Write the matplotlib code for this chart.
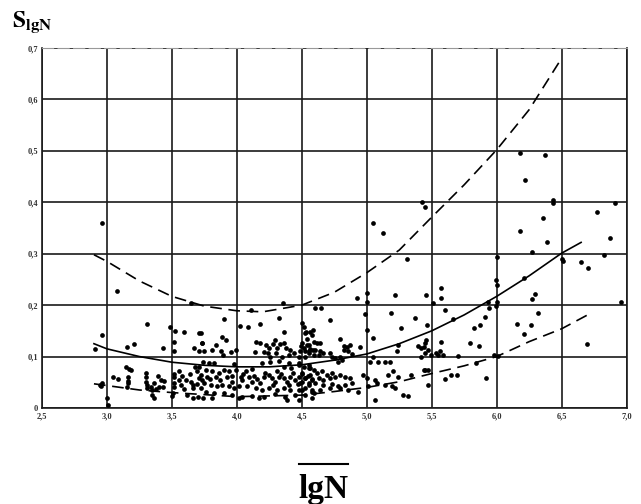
import matplotlib
matplotlib.use("Agg")
import matplotlib.pyplot as plt
from matplotlib.lines import Line2D

# scatter points (lgN, S)
pts_left = [
    (2.965, 0.359), (3.077, 0.228), (2.965, 0.142), (2.906, 0.115), (2.96, 0.048),
    (2.955, 0.042), (2.944, 0.045), (3.003, 0.019), (3.008, 0.006), (3.306, 0.163),
    (3.156, 0.119), (3.212, 0.125), (3.43, 0.117), (3.488, 0.157), (3.524, 0.150),
    (3.513, 0.129), (3.513, 0.110), (3.595, 0.147), (3.71, 0.146), (3.67, 0.116),
    (3.71, 0.110), (3.735, 0.126), (3.646, 0.205),
    (3.149, 0.080), (3.169, 0.076), (3.187, 0.073), (3.046, 0.061), (3.084, 0.056),
    (3.16, 0.060), (3.16, 0.053), (3.16, 0.048), (3.155, 0.041),
    (3.30, 0.069), (3.30, 0.060), (3.30, 0.051), (3.31, 0.045), (3.31, 0.038),
    (3.34, 0.041), (3.35, 0.035), (3.35, 0.025), (3.36, 0.019), (3.38, 0.036),
    (3.365, 0.048), (3.396, 0.062), (3.417, 0.054), (3.44, 0.053), (3.40, 0.040),
    (3.43, 0.041), (3.515, 0.067), (3.515, 0.060), (3.515, 0.048), (3.515, 0.041),
    (3.51, 0.029), (3.50, 0.023), (3.557, 0.071), (3.574, 0.062), (3.551, 0.054),
    (3.57, 0.045), (3.595, 0.036), (3.608, 0.054), (3.641, 0.067), (3.646, 0.051),
    (3.659, 0.038), (3.666, 0.045), (3.697, 0.071), (3.71, 0.058), (3.692, 0.047),
    (3.723, 0.038), (3.735, 0.054), (3.677, 0.080), (3.71, 0.079), (3.62, 0.025),
    (3.66, 0.020), (3.70, 0.022),
]

pts_middle = [
    (4.353, 0.204), (4.106, 0.191), (3.901, 0.173), (4.021, 0.160), (4.087, 0.158),
    (4.182, 0.163), (4.328, 0.175), (4.50, 0.165), (4.52, 0.158), (4.53, 0.148),
    (4.565, 0.147), (4.59, 0.152), (4.36, 0.147), (3.723, 0.145),
    (3.884, 0.139), (3.914, 0.132), (3.838, 0.123), (3.735, 0.126), (3.812, 0.113),
    (3.748, 0.111), (3.876, 0.110), (3.894, 0.103), (3.952, 0.108), (3.991, 0.113),
    (4.149, 0.129), (4.182, 0.126), (4.221, 0.123), (4.246, 0.116), (4.276, 0.125),
    (4.292, 0.132), (4.309, 0.116), (4.335, 0.125), (4.361, 0.126), (4.378, 0.116),
    (4.412, 0.113), (4.302, 0.106), (4.240, 0.106), (4.208, 0.108), (4.139, 0.108),
    (4.259, 0.100), (4.348, 0.100), (4.399, 0.103), (4.437, 0.106), (4.475, 0.100),
    (4.521, 0.110), (4.557, 0.110), (4.590, 0.113), (4.539, 0.123), (4.496, 0.121),
    (4.259, 0.090), (4.323, 0.092), (4.399, 0.087), (4.476, 0.088), (4.552, 0.084),
    (3.736, 0.090), (3.787, 0.087), (3.825, 0.088), (3.761, 0.074), (3.812, 0.071),
    (3.723, 0.064), (3.774, 0.061), (3.838, 0.060), (3.863, 0.068), (3.901, 0.074),
    (3.94, 0.071), (3.927, 0.060), (3.965, 0.062), (3.991, 0.074), (4.029, 0.061),
    (4.042, 0.055), (4.067, 0.071), (4.093, 0.060), (4.131, 0.062), (4.118, 0.051),
    (4.157, 0.056), (4.182, 0.048), (4.208, 0.060), (4.246, 0.064), (4.272, 0.058),
    (4.297, 0.051), (4.323, 0.061), (4.361, 0.058), (4.386, 0.051), (4.412, 0.061),
    (4.45, 0.055), (4.476, 0.060), (4.501, 0.051), (4.527, 0.058), (4.552, 0.048),
    (4.578, 0.055), (3.748, 0.048), (3.799, 0.045), (3.85, 0.042), (3.889, 0.045),
    (3.94, 0.042), (3.978, 0.038), (4.016, 0.043), (4.08, 0.042), (4.144, 0.038),
    (4.195, 0.035), (4.246, 0.038), (4.31, 0.035), (4.361, 0.038), (4.412, 0.035),
    (4.476, 0.035), (4.527, 0.038), (4.578, 0.035), (3.761, 0.032), (3.825, 0.029),
    (3.901, 0.029), (3.965, 0.025), (4.042, 0.022), (4.118, 0.023), (4.208, 0.022),
    (4.297, 0.027), (4.374, 0.022), (4.45, 0.025), (4.527, 0.025), (4.591, 0.029),
    (3.736, 0.019), (3.812, 0.019), (4.016, 0.019), (4.169, 0.019), (4.386, 0.016),
    (4.476, 0.016), (4.22, 0.068), (4.28, 0.045), (4.34, 0.066), (4.40, 0.044),
    (4.43, 0.068), (4.47, 0.047), (4.50, 0.066), (4.55, 0.062), (4.31, 0.072),
    (4.12, 0.075), (4.05, 0.066), (3.96, 0.050), (3.87, 0.055), (3.79, 0.056),
    (3.98, 0.085), (4.19, 0.087), (4.36, 0.080), (4.42, 0.078), (4.56, 0.077),
]

pts_center_right = [
    (4.922, 0.213), (4.999, 0.224), (5.22, 0.220), (4.603, 0.194), (4.649, 0.194),
    (5.19, 0.185), (4.986, 0.182), (4.718, 0.171), (5.0, 0.152), (5.266, 0.155),
    (4.527, 0.145), (4.578, 0.142), (4.54, 0.134), (4.591, 0.129), (4.502, 0.126),
    (4.553, 0.123), (4.616, 0.126), (4.642, 0.127), (4.514, 0.116), (4.565, 0.114),
    (4.604, 0.113), (4.642, 0.110), (4.489, 0.110), (4.553, 0.106), (4.591, 0.103),
    (4.527, 0.100), (4.629, 0.103), (4.667, 0.106), (4.718, 0.106), (4.731, 0.100),
    (4.757, 0.097), (4.795, 0.100), (4.808, 0.093), (4.782, 0.090), (4.821, 0.113),
    (4.859, 0.110), (4.846, 0.119), (4.872, 0.123), (4.821, 0.121), (4.884, 0.105),
    (4.948, 0.119), (4.795, 0.134), (5.089, 0.090), (5.025, 0.090), (5.05, 0.100),
    (5.14, 0.090),
    (4.476, 0.084), (4.514, 0.080), (4.553, 0.077), (4.591, 0.074), (4.502, 0.068),
    (4.565, 0.064), (4.616, 0.068), (4.655, 0.071), (4.693, 0.064), (4.731, 0.068),
    (4.527, 0.058), (4.578, 0.056), (4.629, 0.058), (4.667, 0.055), (4.718, 0.058),
    (4.757, 0.060), (4.795, 0.064), (4.833, 0.061), (4.872, 0.058), (4.489, 0.048),
    (4.553, 0.045), (4.604, 0.048), (4.667, 0.045), (4.731, 0.047), (4.782, 0.043),
    (4.833, 0.045), (4.884, 0.048), (4.502, 0.035), (4.578, 0.032), (4.642, 0.035),
    (4.718, 0.038), (4.795, 0.038), (4.859, 0.035), (4.935, 0.032), (4.578, 0.019),
    (4.974, 0.064), (4.999, 0.058), (5.012, 0.042), (5.063, 0.055), (5.076, 0.048),
    (5.14, 0.045), (5.191, 0.042), (5.216, 0.038), (5.063, 0.016), (5.28, 0.025),
    (5.165, 0.064), (5.203, 0.071), (5.242, 0.061), (5.318, 0.024), (5.344, 0.064),
    (5.446, 0.074), (5.471, 0.045), (5.599, 0.056), (5.65, 0.064), (5.696, 0.064),
    (5.44, 0.074), (5.47, 0.074),
]

pts_right = [
    (5.451, 0.390), (5.05, 0.359), (5.127, 0.340), (5.313, 0.289), (5.004, 0.207),
    (5.458, 0.220), (5.51, 0.204), (5.573, 0.213), (5.568, 0.233), (5.599, 0.191),
    (5.374, 0.175), (5.663, 0.174), (5.466, 0.161), (5.05, 0.136), (5.242, 0.123),
    (5.236, 0.110), (5.178, 0.090),
    (5.395, 0.121), (5.42, 0.116), (5.441, 0.119), (5.446, 0.126), (5.459, 0.132),
    (5.471, 0.113), (5.451, 0.106), (5.497, 0.103), (5.535, 0.106), (5.561, 0.110),
    (5.573, 0.129), (5.42, 0.100), (5.548, 0.103), (5.586, 0.103), (5.701, 0.101),
    (5.829, 0.155), (5.875, 0.161), (5.798, 0.126), (5.867, 0.121), (5.91, 0.176),
    (5.943, 0.194), (5.936, 0.207), (5.995, 0.198), (6.002, 0.207), (6.0, 0.239),
    (5.995, 0.249), (6.0, 0.294), (5.982, 0.103), (6.007, 0.101), (5.841, 0.088),
    (5.918, 0.058),
    (6.16, 0.163), (6.211, 0.143), (6.262, 0.161), (6.319, 0.185), (6.275, 0.211),
    (6.293, 0.221), (6.211, 0.252), (6.275, 0.304), (6.39, 0.322), (6.178, 0.344),
    (6.505, 0.290), (6.51, 0.285), (6.65, 0.283), (6.702, 0.273), (6.773, 0.381),
    (6.829, 0.298), (6.875, 0.331), (6.908, 0.398), (6.957, 0.207), (6.696, 0.124),
    (6.178, 0.496), (6.372, 0.492), (6.217, 0.443), (6.433, 0.405), (6.433, 0.398),
    (5.425, 0.401), (6.36, 0.370),
]

# regression curve and confidence bounds, sampled along the drawn lines
mid_x = [2.9, 3.0, 3.25, 3.5, 3.75, 4.0, 4.25, 4.5, 4.75, 5.0, 5.25, 5.5, 5.75, 6.0, 6.25, 6.5, 6.65]
mid_y = [0.125, 0.115, 0.100, 0.089, 0.083, 0.080, 0.080, 0.084, 0.093, 0.105, 0.125, 0.150, 0.181, 0.217, 0.257, 0.301, 0.322]

upper_x = [2.9, 3.0, 3.25, 3.5, 3.75, 4.0, 4.2, 4.5, 4.75, 5.0, 5.25, 5.5, 5.75, 6.0, 6.25, 6.48]
upper_y = [0.298, 0.285, 0.247, 0.217, 0.198, 0.189, 0.187, 0.200, 0.225, 0.263, 0.307, 0.371, 0.434, 0.502, 0.580, 0.672]

lower_x = [2.9, 3.25, 3.5, 4.0, 4.5, 4.75, 5.0, 5.25, 5.5, 5.75, 6.0, 6.25, 6.5, 6.7]
lower_y = [0.047, 0.035, 0.030, 0.022, 0.025, 0.032, 0.040, 0.051, 0.067, 0.082, 0.100, 0.129, 0.154, 0.181]

x_ticks = [2.5, 3.0, 3.5, 4.0, 4.5, 5.0, 5.5, 6.0, 6.5, 7.0]
x_labels = ["2,5", "3,0", "3,5", "4,0", "4,5", "5,0", "5,5", "6,0", "6,5", "7,0"]
y_ticks = [0, 0.1, 0.2, 0.3, 0.4, 0.5, 0.6, 0.7]
y_labels = ["0", "0,1", "0,2", "0,3", "0,4", "0,5", "0,6", "0,7"]

plt.rcParams["font.family"] = ["Liberation Serif", "DejaVu Serif"]
plt.rcParams["mathtext.fontset"] = "stix"

fig = plt.figure(figsize=(6.41, 5.04), dpi=100)
ax = fig.add_axes([0.0655, 0.1905, 0.912, 0.7143])

pts = pts_left + pts_middle + pts_center_right + pts_right
ax.plot([p[0] for p in pts], [p[1] for p in pts], "o", color="black",
        markersize=3.4, markeredgewidth=0, zorder=3)

ax.plot(mid_x, mid_y, color="black", lw=1.2, zorder=2)
ax.plot(upper_x, upper_y, color="black", lw=1.2, dashes=(7, 4), zorder=2)
ax.plot(lower_x, lower_y, color="black", lw=1.2, dashes=(7, 4), zorder=2)

ax.set_xlim(2.5, 7.0)
ax.set_ylim(0, 0.7)
ax.set_xticks(x_ticks)
ax.set_xticklabels(x_labels)
ax.set_yticks(y_ticks)
ax.set_yticklabels(y_labels)
ax.tick_params(length=0, labelsize=6, pad=3)
for lab in ax.get_xticklabels() + ax.get_yticklabels():
    lab.set_fontweight("bold")
    lab.set_color("#333333")
ax.grid(True, color="#1a1a1a", lw=1.2)
ax.set_axisbelow(True)

for side in ["left", "right", "bottom"]:
    ax.spines[side].set_color("#1a1a1a")
    ax.spines[side].set_linewidth(1.2)
ax.spines["top"].set_color("#999999")
ax.spines["top"].set_linestyle((0, (10, 4)))

fig.text(0.019, 0.948, r"$\mathbf{S}_{\mathbf{lgN}}$", fontsize=17, ha="left", va="baseline")

fig.text(0.504, 0.012, "lgN", fontsize=24, fontweight="bold", ha="center", va="baseline")
fig.add_artist(Line2D([0.467, 0.543], [0.079, 0.079], color="black", lw=1.5,
                      transform=fig.transFigure))

fig.savefig("out.png", dpi=100)
